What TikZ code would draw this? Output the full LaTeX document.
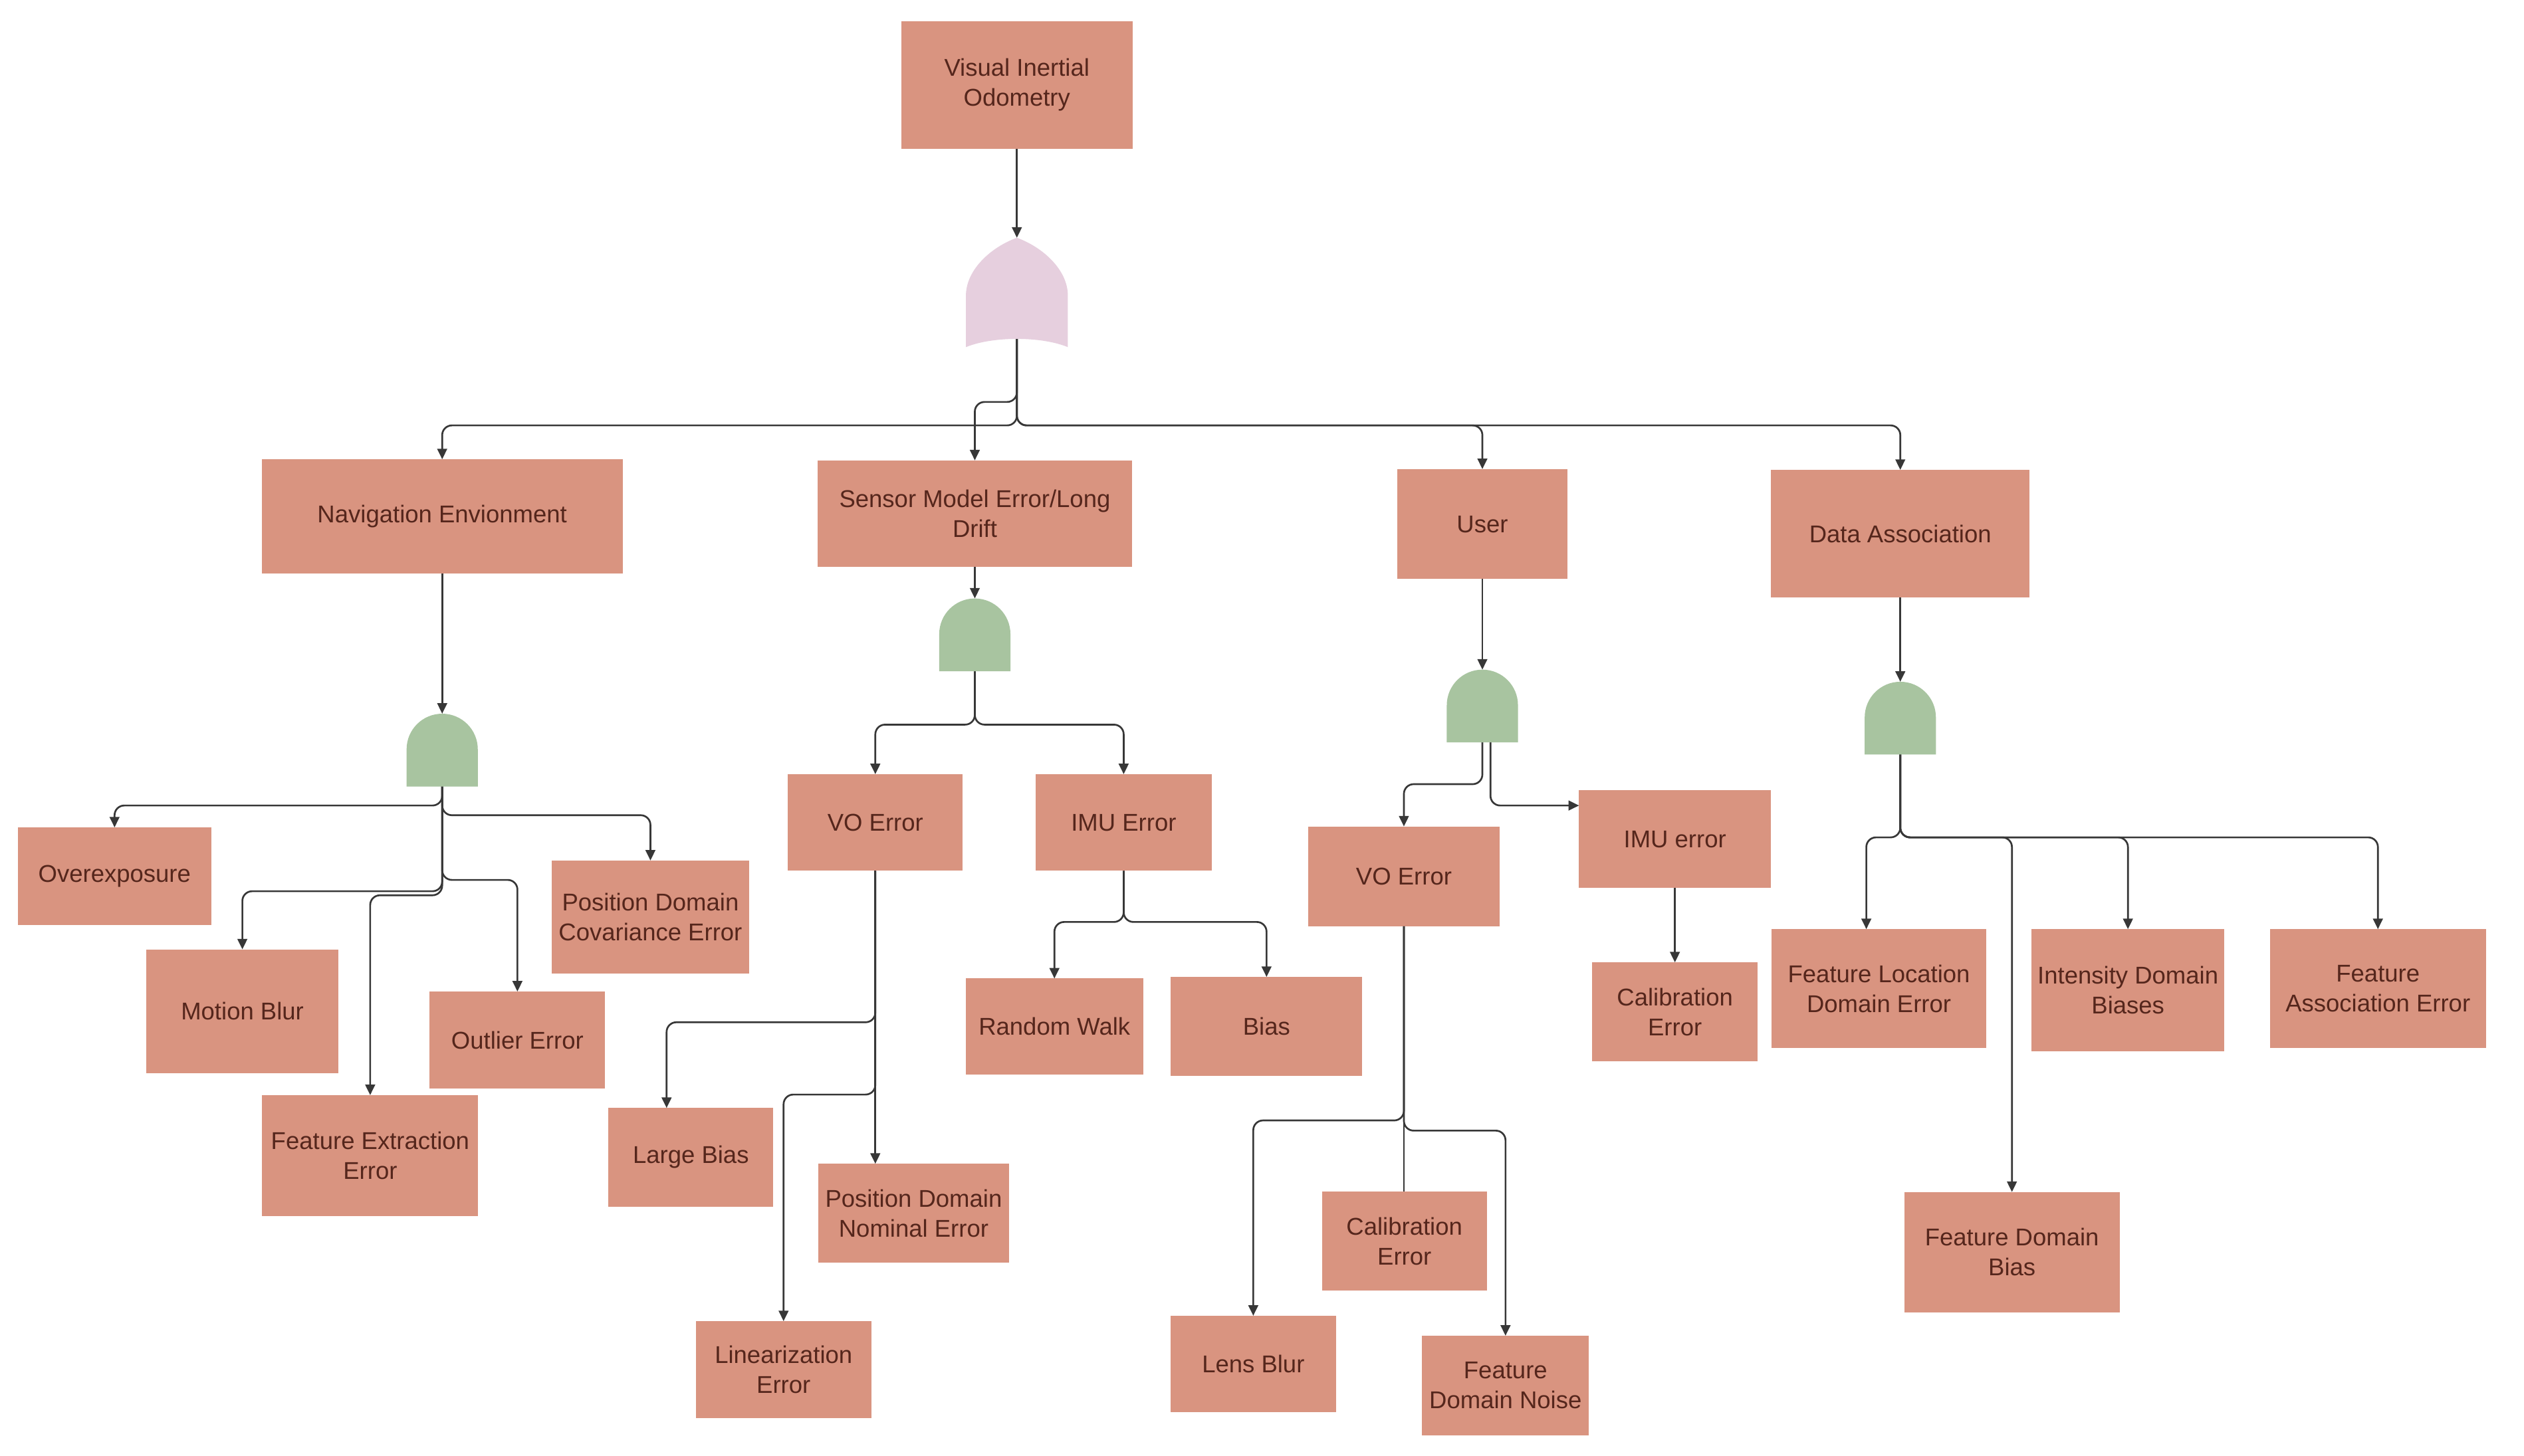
\documentclass[tikz,border=0pt]{standalone}
\usepackage{fontspec}
\setmainfont{Liberation Sans}
\usetikzlibrary{arrows.meta,calc}
\definecolor{boxfill}{RGB}{217,148,128}
\definecolor{boxtext}{RGB}{85,38,28}
\definecolor{andfill}{RGB}{168,196,160}
\definecolor{orfill}{RGB}{230,207,222}
\definecolor{linecol}{RGB}{55,55,55}
\newcommand{\andgateshape}[1]{\fill[andfill,shift={(#1.center)}] (-22,22.5) -- (-22,-0.5) .. controls (-22,-12.65) and (-12.15,-22.5) .. (0,-22.5) .. controls (12.15,-22.5) and (22,-12.65) .. (22,-0.5) -- (22,22.5) -- cycle;}
\newcommand{\orgateshape}[1]{\fill[orfill,shift={(#1.center)}] (-31.5,33.8) -- (-31.5,2) .. controls (-31.5,-14) and (-16,-28) .. (0,-33.8) .. controls (16,-28) and (31.5,-14) .. (31.5,2) -- (31.5,33.8) .. controls (15,27) and (-15,27) .. (-31.5,33.8) -- cycle;}
\begin{document}
\begin{tikzpicture}[x=1pt,y=-1pt,
  fbox/.style={fill=boxfill, text=boxtext, align=center, inner sep=0pt, outer sep=0pt, font=\fontsize{15}{18.5}\selectfont},
  andnode/.style={minimum width=44pt, minimum height=45pt, inner sep=0pt, outer sep=0pt},
  ornode/.style={minimum width=63pt, minimum height=67.6pt, inner sep=0pt, outer sep=0pt},
  arr/.style={draw=linecol, line width=1.1pt, rounded corners=6pt, -{Triangle[length=6.5pt,width=6pt]}},
  plainline/.style={draw=linecol, line width=1.1pt}]
\fill[white] (0,0) rectangle (1560,899.8);
\useasboundingbox (0,0) rectangle (1560,899.8);

% boxes
\node[fbox,minimum width=143pt,minimum height=79pt] (vio) at (628.5,52.5) {Visual Inertial\\Odometry};
\node[fbox,minimum width=223pt,minimum height=70.5pt] (nav) at (273.3,319.2) {Navigation Envionment};
\node[fbox,minimum width=194pt,minimum height=66pt] (sen) at (602.5,317.6) {Sensor Model Error/Long\\Drift};
\node[fbox,minimum width=105pt,minimum height=68pt] (usr) at (916.2,324) {User};
\node[fbox,minimum width=160pt,minimum height=79pt] (dat) at (1174.5,330) {Data Association};
\node[fbox,minimum width=119.5pt,minimum height=60.5pt] (over) at (70.8,541.8) {Overexposure};
\node[fbox,minimum width=118.5pt,minimum height=76.5pt] (mot) at (149.8,625.2) {Motion Blur};
\node[fbox,minimum width=108.4pt,minimum height=60pt] (outl) at (319.8,643) {Outlier Error};
\node[fbox,minimum width=122pt,minimum height=70pt] (pdc) at (402,567) {Position Domain\\Covariance Error};
\node[fbox,minimum width=133.5pt,minimum height=74.7pt] (fee) at (228.8,714.4) {Feature Extraction\\Error};
\node[fbox,minimum width=108pt,minimum height=59.7pt] (voa) at (541,508.5) {VO Error};
\node[fbox,minimum width=109pt,minimum height=59.7pt] (imua) at (694.5,508.5) {IMU Error};
\node[fbox,minimum width=102pt,minimum height=61pt] (lbias) at (427,715.5) {Large Bias};
\node[fbox,minimum width=118pt,minimum height=61pt] (pdn) at (564.7,750) {Position Domain\\Nominal Error};
\node[fbox,minimum width=108.6pt,minimum height=60pt] (lin) at (484.3,846.8) {Linearization\\Error};
\node[fbox,minimum width=109.5pt,minimum height=59.5pt] (rw) at (651.7,634.7) {Random Walk};
\node[fbox,minimum width=118.4pt,minimum height=61pt] (bias) at (782.8,634.5) {Bias};
\node[fbox,minimum width=118.5pt,minimum height=61.7pt] (vob) at (867.7,541.8) {VO Error};
\node[fbox,minimum width=118.5pt,minimum height=60.4pt] (imub) at (1035.2,518.8) {IMU error};
\node[fbox,minimum width=102.5pt,minimum height=61pt] (cala) at (1035.2,625.5) {Calibration\\Error};
\node[fbox,minimum width=102pt,minimum height=61pt] (calb) at (868,767.3) {Calibration\\Error};
\node[fbox,minimum width=102.3pt,minimum height=59.5pt] (lens) at (774.6,843.2) {Lens Blur};
\node[fbox,minimum width=103pt,minimum height=61.6pt] (fdn) at (930.5,856.6) {Feature\\Domain Noise};
\node[fbox,minimum width=132.6pt,minimum height=73.5pt] (flde) at (1161.3,611.2) {Feature Location\\Domain Error};
\node[fbox,minimum width=119pt,minimum height=75.5pt] (idb) at (1315.2,612.2) {Intensity Domain\\Biases};
\node[fbox,minimum width=133.4pt,minimum height=73.5pt] (fae) at (1469.7,611.2) {Feature\\Association Error};
\node[fbox,minimum width=133pt,minimum height=74.5pt] (fdb) at (1243.5,774.2) {Feature Domain\\Bias};

% gates (placeholders, shapes drawn later)
\node[ornode] (gor) at (628.5,180.8) {};
\node[andnode] (gnav) at (273.3,463.75) {};
\node[andnode] (gsen) at (602.5,392.5) {};
\node[andnode] (gusr) at (916.2,436.5) {};
\node[andnode] (gdat) at (1174.5,444) {};

% junctions
\coordinate (jor1) at (628.5,248.5);
\coordinate (jor2) at (628.5,263);
\coordinate (jn1) at (273.3,498);
\coordinate (jn2) at (273.3,504);
\coordinate (jn3) at (273.3,544);
\coordinate (jn4) at (273.3,551);
\coordinate (jn5) at (273.3,553.5);
\coordinate (js) at (602.5,448);
\coordinate (jv1) at (541,632);
\coordinate (jv2) at (541,676.7);
\coordinate (ji) at (694.5,570);
\coordinate (ju1) at (916.2,484.8);
\coordinate (ju2) at (921.2,498);
\coordinate (jb1) at (867.7,692.7);
\coordinate (jb2) at (867.7,699);
\coordinate (jd) at (1174.5,517.7);

% connectors
\draw[arr] (vio.south) -- (vio.south |- gor.north);
\draw[arr] (gor.center) -- (jor1) -| (sen.north);
\draw[arr] (gor.center) -- (jor2) -| (nav.north);
\draw[arr] (gor.center) -- (jor2) -| (usr.north);
\draw[arr] (gor.center) -- (jor2) -| (dat.north);

\draw[arr] (nav.south) -- (nav.south |- gnav.north);
\draw[arr] (gnav.center) -- (jn1) -| (over.north);
\draw[arr] (gnav.center) -- (jn2) -| (pdc.north);
\draw[arr] (gnav.center) -- (jn3) -| (outl.north);
\draw[arr] (gnav.center) -- (jn4) -| (mot.north);
\draw[arr] (gnav.center) -- (jn5) -| (fee.north);

\draw[arr] (sen.south) -- (sen.south |- gsen.north);
\draw[arr] (gsen.center) -- (js) -| (voa.north);
\draw[arr] (gsen.center) -- (js) -| (imua.north);

\draw[arr] (voa.south) -- (jv1) -| ([xshift=-15pt]lbias.north);
\draw[arr] (voa.south) -- (jv2) -| (lin.north);
\draw[arr] (voa.south) -- (voa.south |- pdn.north);

\draw[arr] (imua.south) -- (ji) -| (rw.north);
\draw[arr] (imua.south) -- (ji) -| (bias.north);

\draw[arr] (usr.south) -- (usr.south |- gusr.north);
\draw[arr] (gusr.center) -- (ju1) -| (vob.north);
\draw[arr] ([xshift=5pt]gusr.center) -- (ju2) -- (imub.west |- ju2);
\draw[arr] (imub.south) -- (cala.north);

\draw[plainline] (vob.south) -- (vob.south |- calb.north);
\draw[arr] (vob.south) -- (jb1) -| (lens.north);
\draw[arr] (vob.south) -- (jb2) -| (fdn.north);

\draw[arr] (dat.south) -- (dat.south |- gdat.north);
\draw[arr] (gdat.center) -- (jd) -| ([xshift=-7.8pt]flde.north);
\draw[arr] (gdat.center) -- (jd) -| (fdb.north);
\draw[arr] (gdat.center) -- (jd) -| (idb.north);
\draw[arr] (gdat.center) -- (jd) -| (fae.north);

% gate shapes
\orgateshape{gor}
\andgateshape{gnav}
\andgateshape{gsen}
\andgateshape{gusr}
\andgateshape{gdat}
\end{tikzpicture}
\end{document}
